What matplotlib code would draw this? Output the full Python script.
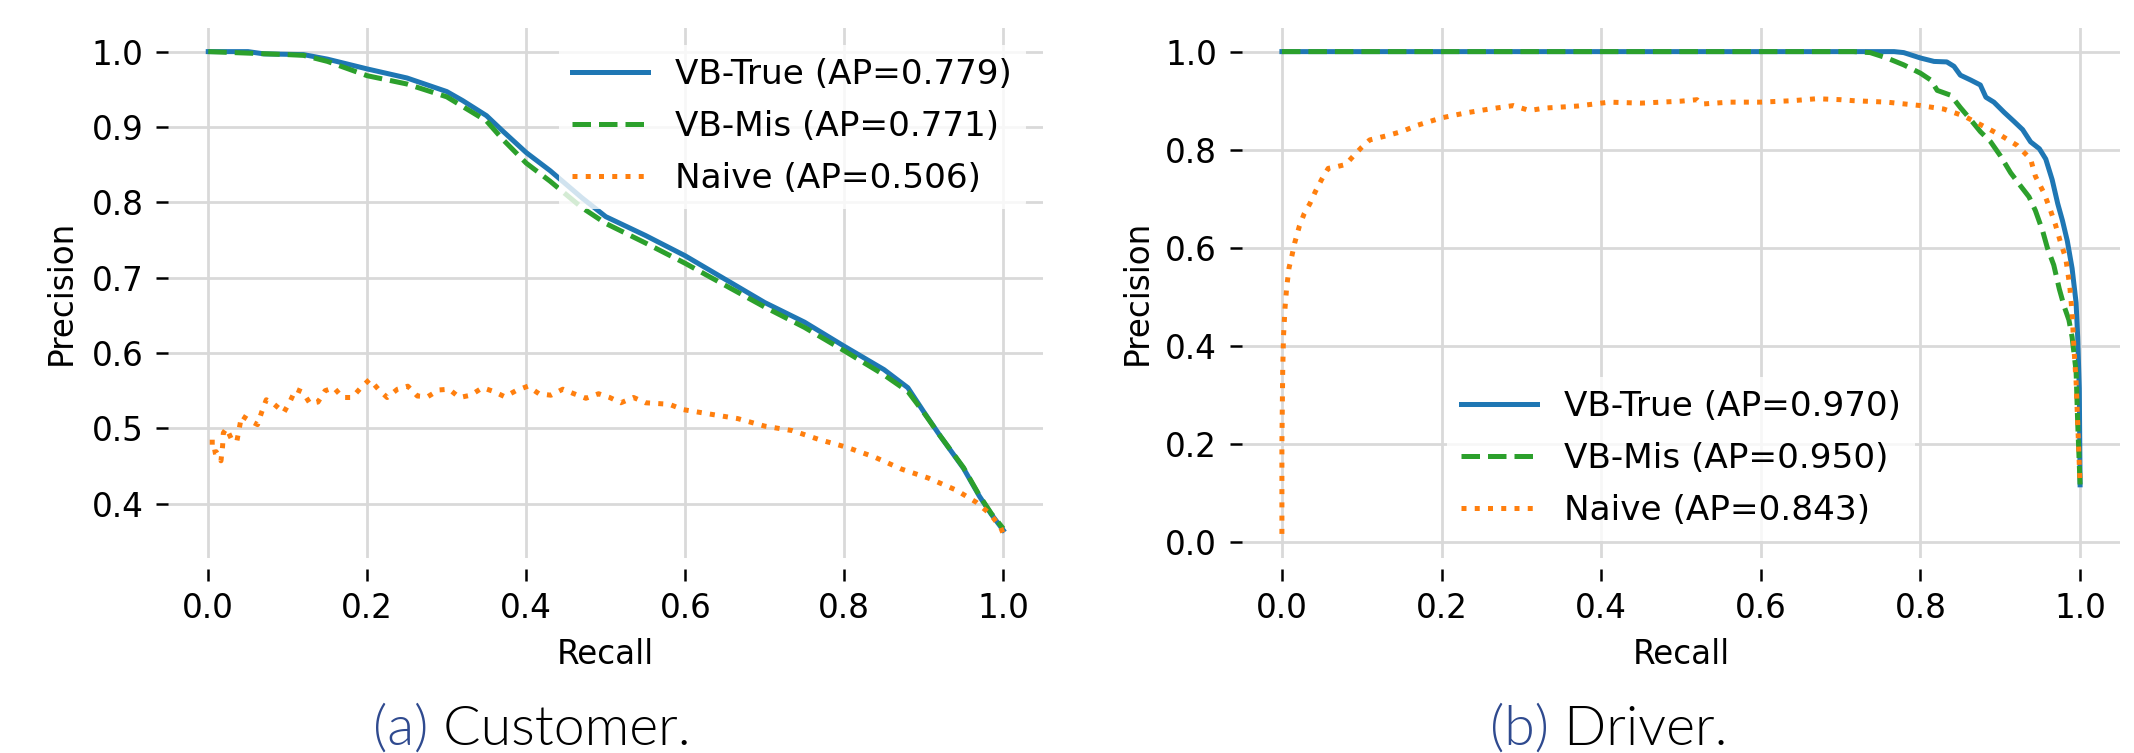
import matplotlib
matplotlib.use("Agg")
import matplotlib.pyplot as plt

# ---- (a) Customer ----
cust_true_r = [0.0, 0.05, 0.07, 0.12, 0.15, 0.2, 0.25, 0.3, 0.32, 0.35, 0.37, 0.4, 0.43,
               0.47, 0.5, 0.55, 0.6, 0.65, 0.7, 0.75, 0.8, 0.85, 0.88, 0.9, 0.92, 0.95,
               0.97, 0.985, 1.0]
cust_true_p = [1.0, 1.0, 0.997, 0.996, 0.99, 0.977, 0.965, 0.947, 0.935, 0.915, 0.895, 0.866,
               0.842, 0.806, 0.781, 0.756, 0.729, 0.698, 0.667, 0.641, 0.609, 0.578, 0.554,
               0.522, 0.491, 0.447, 0.41, 0.386, 0.365]
cust_mis_r = [0.0, 0.05, 0.1, 0.12, 0.15, 0.2, 0.25, 0.3, 0.35, 0.37, 0.4, 0.43, 0.47, 0.5,
              0.55, 0.6, 0.65, 0.7, 0.75, 0.8, 0.85, 0.88, 0.9, 0.92, 0.95, 0.97, 0.985, 1.0]
cust_mis_p = [1.0, 0.998, 0.996, 0.995, 0.987, 0.968, 0.957, 0.94, 0.908, 0.884, 0.852, 0.828,
              0.793, 0.772, 0.746, 0.719, 0.69, 0.661, 0.634, 0.603, 0.571, 0.549, 0.521,
              0.491, 0.448, 0.411, 0.387, 0.367]
cust_naive_r = [0.005, 0.005, 0.01, 0.016, 0.018, 0.019, 0.023, 0.03, 0.036, 0.039, 0.042,
                0.051, 0.062, 0.067, 0.073, 0.083, 0.095, 0.103, 0.11, 0.119, 0.128, 0.138,
                0.147, 0.158, 0.169, 0.181, 0.192, 0.203, 0.214, 0.225, 0.238, 0.251, 0.263,
                0.276, 0.29, 0.303, 0.316, 0.33, 0.345, 0.359, 0.373, 0.387, 0.402, 0.416,
                0.431, 0.446, 0.46, 0.475, 0.491, 0.505, 0.519, 0.535, 0.55, 0.58, 0.597,
                0.631, 0.666, 0.70, 0.735, 0.769, 0.803, 0.838, 0.872, 0.906, 0.941, 0.966,
                0.984, 0.997, 1.0]
cust_naive_p = [0.485, 0.468, 0.469, 0.457, 0.476, 0.494, 0.50, 0.484, 0.483, 0.50, 0.517,
                0.511, 0.505, 0.521, 0.538, 0.532, 0.521, 0.536, 0.552, 0.548, 0.533, 0.535,
                0.55, 0.554, 0.541, 0.541, 0.554, 0.565, 0.552, 0.541, 0.552, 0.556, 0.543,
                0.542, 0.551, 0.552, 0.541, 0.544, 0.554, 0.549, 0.542, 0.55, 0.556, 0.546,
                0.544, 0.552, 0.546, 0.54, 0.546, 0.541, 0.534, 0.541, 0.534, 0.532, 0.525,
                0.519, 0.513, 0.503, 0.497, 0.485, 0.475, 0.462, 0.446, 0.434, 0.418, 0.402,
                0.386, 0.368, 0.36]

# ---- (b) Driver ----
drv_true_r = [0.0, 0.767, 0.779, 0.8, 0.817, 0.833, 0.842, 0.85, 0.863, 0.875, 0.882, 0.892,
              0.905, 0.917, 0.928, 0.938, 0.949, 0.957, 0.965, 0.972, 0.978, 0.984, 0.99,
              0.995, 0.997, 0.999, 1.0]
drv_true_p = [1.0, 1.0, 0.998, 0.987, 0.98, 0.979, 0.97, 0.952, 0.942, 0.932, 0.907, 0.897,
              0.876, 0.858, 0.841, 0.816, 0.802, 0.781, 0.739, 0.69, 0.655, 0.614, 0.558,
              0.488, 0.418, 0.313, 0.117]
drv_mis_r = [0.0, 0.716, 0.737, 0.758, 0.779, 0.8, 0.813, 0.821, 0.838, 0.85, 0.861, 0.875,
             0.888, 0.9, 0.913, 0.926, 0.936, 0.944, 0.953, 0.959, 0.967, 0.974, 0.98, 0.986,
             0.99, 0.995, 0.997, 1.0]
drv_mis_p = [1.0, 1.0, 0.998, 0.987, 0.973, 0.956, 0.942, 0.921, 0.911, 0.886, 0.865, 0.837,
             0.816, 0.788, 0.753, 0.725, 0.704, 0.676, 0.635, 0.6, 0.565, 0.516, 0.481, 0.453,
             0.418, 0.348, 0.243, 0.117]
drv_naive_r = [0.0, 0.0, 0.001, 0.002, 0.004, 0.006, 0.009, 0.012, 0.016, 0.022, 0.028, 0.035,
               0.042, 0.05, 0.058, 0.07, 0.08, 0.09, 0.1, 0.11, 0.13, 0.15, 0.17, 0.2, 0.23,
               0.26, 0.29, 0.31, 0.33, 0.37, 0.41, 0.45, 0.5, 0.52, 0.525, 0.56, 0.6, 0.64,
               0.67, 0.7, 0.716, 0.758, 0.8, 0.829, 0.854, 0.879, 0.9, 0.921, 0.938, 0.944,
               0.955, 0.963, 0.969, 0.975, 0.982, 0.987, 0.99, 0.992, 0.995, 0.997, 1.0]
drv_naive_p = [0.017, 0.2, 0.35, 0.42, 0.48, 0.52, 0.56, 0.58, 0.61, 0.645, 0.67, 0.69, 0.715,
               0.74, 0.762, 0.766, 0.77, 0.788, 0.805, 0.82, 0.828, 0.837, 0.85, 0.865, 0.875,
               0.883, 0.89, 0.88, 0.885, 0.889, 0.897, 0.895, 0.899, 0.902, 0.893, 0.897,
               0.897, 0.9, 0.904, 0.902, 0.9, 0.897, 0.89, 0.883, 0.869, 0.848, 0.83, 0.809,
               0.781, 0.746, 0.711, 0.676, 0.648, 0.614, 0.579, 0.523, 0.467, 0.404, 0.327,
               0.243, 0.117]

cust_ap = [0.779, 0.771, 0.506]
drv_ap = [0.970, 0.950, 0.843]
captions = [("(a)", "Customer."), ("(b)", "Driver.")]

FS = 23.5
plt.rcParams["font.family"] = "DejaVu Sans"
plt.rcParams["font.size"] = FS

fig = plt.figure(figsize=(21.34, 7.53), dpi=100)
W, H = 2134, 753
ax1 = fig.add_axes([168.5 / W, 1 - 558 / H, (1043 - 168.5) / W, (558 - 27.5) / H])
ax2 = fig.add_axes([1242 / W, 1 - 558 / H, (2120 - 1242) / W, (558 - 27.5) / H])

panels = [
    (ax1, cust_true_r, cust_true_p, cust_mis_r, cust_mis_p, cust_naive_r, cust_naive_p, cust_ap, "upper right", 61),
    (ax2, drv_true_r, drv_true_p, drv_mis_r, drv_mis_p, drv_naive_r, drv_naive_p, drv_ap, "lower center", 1137),
]

lw = 3.6
for ax, tr, tp, mr, mp, nr, np_, ap, loc, ylab_x in panels:
    ax.plot(tr, tp, color="#1f77b4", lw=lw, ls="-", label=f"VB-True (AP={ap[0]:.3f})")
    ax.plot(mr, mp, color="#2ca02c", lw=lw, ls="--", label=f"VB-Mis (AP={ap[1]:.3f})")
    ax.plot(nr, np_, color="#ff7f0e", lw=lw, ls=":", label=f"Naive (AP={ap[2]:.3f})")
    ax.set_xticks([0.0, 0.2, 0.4, 0.6, 0.8, 1.0])
    ax.grid(True, color="#d9d9d9", lw=2.0)
    ax.set_axisbelow(True)
    for s in ax.spines.values():
        s.set_visible(False)
    ax.spines["bottom"].set_position(("outward", 8))
    ax.tick_params(axis="both", direction="out", length=8.5, width=1.8, color="black",
                   labelsize=FS)
    ax.tick_params(axis="x", pad=8)
    ax.tick_params(axis="y", pad=9.5)
    ax.set_xlabel("Recall", fontsize=FS)
    ax.set_ylabel("Precision", fontsize=FS)
    ax.xaxis.label.set_va("center")
    ax.xaxis.set_label_coords(0.5, -(655 - 558) / 530.5)
    ax.yaxis.label.set_va("center")
    pos = ax.get_position()
    ax.yaxis.set_label_coords(-(pos.x0 * W - ylab_x) / (pos.width * W), 0.5)
    leg = ax.legend(loc=loc, fontsize=FS + 1.2, handlelength=2.2, labelspacing=0.55,
                    framealpha=0.8)
    leg.get_frame().set_edgecolor("none")

# subfigure captions
fig.canvas.draw()
renderer = fig.canvas.get_renderer()
cap_x = [373 / W, 1490 / W]
for (tag, name), x in zip(captions, cap_x):
    t1 = fig.text(x, 1 - 745 / H, tag, family="Lato", fontweight=300, fontsize=40,
                  color="#2f4a8f", va="baseline", ha="left")
    bb = t1.get_window_extent(renderer)
    fig.text(bb.x1 / W, 1 - 745 / H, " " + name, family="Lato", fontweight=300,
             fontsize=40, color="black", va="baseline", ha="left")

fig.savefig("out.png", dpi=100)
